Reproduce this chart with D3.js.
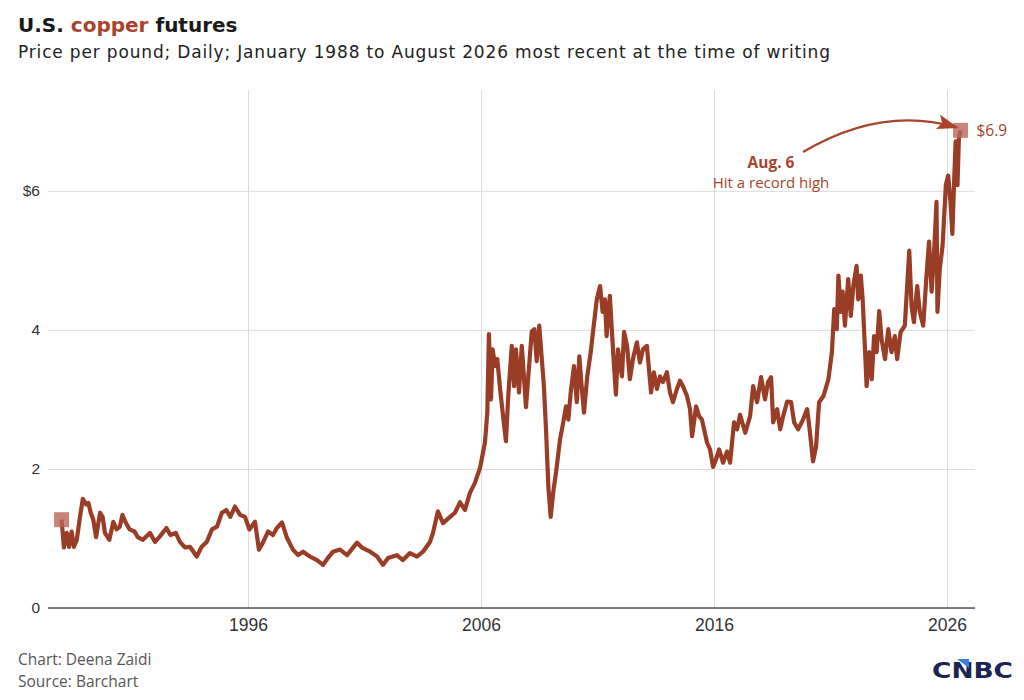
<!DOCTYPE html>
<html>
<head>
<meta charset="utf-8">
<script src="https://cdn.jsdelivr.net/npm/d3@7"></script>
<style>
  body { margin: 0; background: #fff; }
  svg { display: block; font-family: "Open Sans", sans-serif; }
  .tick line { stroke: #dcdcdc; }
  .domain { display: none; }
</style>
</head>
<body>
<svg id="chart" width="1024" height="700"></svg>
<script>
// decimal year / price per pound
var years = [
  1988.00, 1988.10, 1988.22, 1988.32, 1988.43, 1988.53, 1988.65, 1988.79, 1988.91, 1989.05,
  1989.15, 1989.25, 1989.36, 1989.48, 1989.65, 1989.76, 1989.86, 1990.05, 1990.22, 1990.36,
  1990.50, 1990.61, 1990.75, 1990.92, 1991.13, 1991.27, 1991.49, 1991.79, 1992.01, 1992.22,
  1992.50, 1992.67, 1992.90, 1993.08, 1993.30, 1993.51, 1993.80, 1994.01, 1994.23, 1994.45,
  1994.67, 1994.88, 1995.07, 1995.24, 1995.44, 1995.66, 1995.87, 1996.06, 1996.30, 1996.47,
  1996.64, 1996.86, 1997.07, 1997.24, 1997.46, 1997.67, 1997.93, 1998.15, 1998.36, 1998.66,
  1998.96, 1999.22, 1999.43, 1999.65, 1999.95, 2000.25, 2000.68, 2000.89, 2001.24, 2001.54,
  2001.79, 2002.01, 2002.39, 2002.65, 2002.95, 2003.25, 2003.51, 2003.81, 2003.94, 2004.15,
  2004.37, 2004.67, 2004.88, 2005.10, 2005.31, 2005.53, 2005.74, 2005.96, 2006.17, 2006.27,
  2006.34, 2006.43, 2006.50, 2006.60, 2006.70, 2006.82, 2006.93, 2007.07, 2007.17, 2007.32,
  2007.42, 2007.50, 2007.63, 2007.75, 2007.85, 2007.93, 2008.03, 2008.18, 2008.29, 2008.39,
  2008.50, 2008.61, 2008.70, 2008.79, 2008.89, 2008.99, 2009.10, 2009.25, 2009.39, 2009.53,
  2009.65, 2009.75, 2009.85, 2009.99, 2010.11, 2010.22, 2010.32, 2010.42, 2010.56, 2010.71,
  2010.82, 2010.97, 2011.11, 2011.22, 2011.32, 2011.39, 2011.53, 2011.62, 2011.71, 2011.79,
  2011.88, 2012.05, 2012.14, 2012.27, 2012.39, 2012.52, 2012.69, 2012.82, 2012.95, 2013.12,
  2013.30, 2013.42, 2013.55, 2013.68, 2013.81, 2013.98, 2014.11, 2014.24, 2014.41, 2014.54,
  2014.67, 2014.84, 2014.97, 2015.06, 2015.23, 2015.36, 2015.48, 2015.70, 2015.83, 2015.96,
  2016.09, 2016.22, 2016.39, 2016.56, 2016.69, 2016.86, 2016.99, 2017.12, 2017.34, 2017.55,
  2017.68, 2017.85, 2018.02, 2018.19, 2018.32, 2018.45, 2018.54, 2018.71, 2018.84, 2018.97,
  2019.14, 2019.31, 2019.44, 2019.61, 2019.82, 2020.00, 2020.12, 2020.25, 2020.38, 2020.51,
  2020.70, 2020.91, 2021.06, 2021.16, 2021.27, 2021.34, 2021.44, 2021.52, 2021.62, 2021.76,
  2021.87, 2021.98, 2022.12, 2022.19, 2022.30, 2022.38, 2022.48, 2022.55, 2022.66, 2022.77,
  2022.87, 2022.98, 2023.09, 2023.19, 2023.34, 2023.48, 2023.62, 2023.76, 2023.86, 2024.01,
  2024.19, 2024.29, 2024.38, 2024.48, 2024.58, 2024.72, 2024.83, 2024.98, 2025.12, 2025.23,
  2025.34, 2025.43, 2025.55, 2025.59, 2025.69, 2025.81, 2025.95, 2026.05, 2026.15, 2026.23,
  2026.30, 2026.37, 2026.45, 2026.51, 2026.58
];
var prices = [
  1.27, 0.87, 1.08, 0.88, 1.10, 0.88, 0.98, 1.31, 1.57, 1.49,
  1.51, 1.37, 1.27, 1.02, 1.37, 1.31, 1.08, 0.98, 1.24, 1.13,
  1.17, 1.34, 1.23, 1.13, 1.10, 1.02, 0.98, 1.08, 0.95, 1.03,
  1.15, 1.05, 1.08, 0.95, 0.87, 0.88, 0.74, 0.88, 0.95, 1.13,
  1.17, 1.37, 1.41, 1.31, 1.46, 1.34, 1.31, 1.13, 1.24, 0.84,
  0.94, 1.10, 1.05, 1.15, 1.23, 1.01, 0.84, 0.76, 0.81, 0.74,
  0.69, 0.62, 0.72, 0.81, 0.84, 0.76, 0.94, 0.87, 0.81, 0.74,
  0.62, 0.72, 0.76, 0.69, 0.79, 0.74, 0.81, 0.95, 1.08, 1.39,
  1.22, 1.31, 1.37, 1.52, 1.41, 1.66, 1.80, 2.02, 2.38, 2.81,
  3.94, 3.00, 3.72, 3.48, 3.58, 3.15, 2.81, 2.40, 3.05, 3.77,
  3.19, 3.72, 3.10, 3.77, 3.29, 2.89, 3.33, 3.98, 4.01, 3.55,
  4.06, 3.58, 3.19, 2.57, 1.75, 1.31, 1.66, 2.03, 2.42, 2.67,
  2.90, 2.71, 3.10, 3.48, 2.96, 3.62, 3.19, 2.81, 3.33, 3.68,
  4.01, 4.44, 4.63, 4.26, 4.44, 3.91, 4.49, 3.97, 3.48, 3.07,
  3.72, 3.33, 3.97, 3.77, 3.29, 3.58, 3.82, 3.53, 3.72, 3.77,
  3.10, 3.39, 3.15, 3.33, 3.25, 3.39, 3.10, 2.96, 3.15, 3.27,
  3.19, 3.05, 2.86, 2.47, 2.90, 2.76, 2.71, 2.38, 2.28, 2.03,
  2.14, 2.28, 2.09, 2.25, 2.09, 2.67, 2.57, 2.78, 2.52, 2.76,
  3.19, 2.96, 3.32, 3.00, 3.25, 3.32, 2.67, 2.86, 2.57, 2.76,
  2.97, 2.96, 2.67, 2.57, 2.71, 2.86, 2.52, 2.11, 2.32, 2.96,
  3.05, 3.29, 3.68, 4.30, 4.01, 4.78, 4.26, 4.55, 4.06, 4.73,
  4.20, 4.63, 4.92, 4.44, 4.78, 4.44, 3.72, 3.19, 3.68, 3.29,
  3.91, 3.68, 4.27, 3.87, 3.58, 4.01, 3.68, 3.91, 3.58, 3.97,
  4.06, 4.63, 5.14, 4.34, 4.11, 4.63, 4.26, 4.06, 4.78, 5.27,
  4.55, 5.02, 5.84, 4.26, 4.88, 5.21, 6.08, 6.22, 5.84, 5.38,
  6.08, 6.71, 6.08, 6.75, 6.87
];
var xTicks = [1996, 2006, 2016, 2026];
var yTicks = [0, 2, 4, 6];
var recordLabel = ["Aug. 6", "Hit a record high"];

var lineColor = "#9a3d26";
var accent = "#a8442c";

var svg = d3.select("#chart");
var data = years.map((v, i) => ({ year: v, price: prices[i] }));

// plot box (named to avoid window.top)
var plotL = 48, plotR = 975, plotT = 90, plotB = 608;

var x = d3.scaleLinear().domain([1988, 2026]).range([61.6, 947]);
var y = d3.scaleLinear().domain([0, 7.45]).range([plotB, plotT]);

// title
var title = svg.append("text").attr("x", 18).attr("y", 32)
  .attr("font-size", 20).attr("font-weight", 700).attr("fill", "#1a1a1a")
  .attr("font-family", "'DejaVu Sans', sans-serif");
title.append("tspan").text("U.S. ");
title.append("tspan").attr("fill", accent).text("copper");
title.append("tspan").text(" futures");

svg.append("text").attr("x", 18).attr("y", 58)
  .attr("font-size", 17).attr("fill", "#222")
  .attr("font-family", "'DejaVu Sans', sans-serif")
  .attr("textLength", 812).attr("lengthAdjust", "spacing")
  .text("Price per pound; Daily; January 1988 to August 2026 most recent at the time of writing");

// y grid + labels
var yAxis = svg.append("g").attr("transform", "translate(" + plotL + ",0)")
  .call(d3.axisLeft(y).tickValues(yTicks).tickSize(-(plotR - plotL)).tickPadding(8)
    .tickFormat(d => d === 6 ? "$6" : d));
yAxis.selectAll("text").attr("font-size", 15.5).attr("fill", "#333");

// x grid + labels
var xAxis = svg.append("g").attr("transform", "translate(0," + plotB + ")")
  .call(d3.axisBottom(x).tickValues(xTicks).tickSize(-(plotB - plotT)).tickPadding(11)
    .tickFormat(d3.format("d")));
xAxis.selectAll("text").attr("font-size", 17.5).attr("fill", "#333");

// baseline
svg.append("line").attr("x1", plotL).attr("x2", plotR)
  .attr("y1", y(0)).attr("y2", y(0))
  .attr("stroke", "#555").attr("stroke-width", 1.5);

// price line
var line = d3.line().x(d => x(d.year)).y(d => y(d.price));
svg.append("path").datum(data)
  .attr("d", line)
  .attr("fill", "none")
  .attr("stroke", lineColor)
  .attr("stroke-width", 4.2)
  .attr("stroke-linejoin", "round");

// start / end markers
var first = data[0], last = data[data.length - 1];
svg.selectAll(".marker").data([first, last]).enter().append("rect")
  .attr("class", "marker")
  .attr("x", d => x(d.year) - 7.5).attr("y", d => y(d.price) - 7.5)
  .attr("width", 15).attr("height", 15)
  .attr("fill", "#b8665a").attr("opacity", 0.8);

svg.append("text").attr("x", x(last.year) + 16).attr("y", y(last.price) + 5.5)
  .attr("font-size", 15.5).attr("fill", accent)
  .text("$" + d3.format(".1f")(last.price));

// annotation arrow
svg.append("defs").append("marker")
  .attr("id", "arrow").attr("viewBox", "0 0 20 14")
  .attr("refX", 18).attr("refY", 7)
  .attr("markerUnits", "userSpaceOnUse")
  .attr("markerWidth", 22).attr("markerHeight", 15)
  .attr("orient", "auto")
  .append("path").attr("d", "M0,0 L20,7 L0,14 L4,7 z").attr("fill", accent);

var ax = x(last.year) - 4, ay = y(last.price) - 3;
svg.append("path")
  .attr("d", "M803,152 Q" + (ax - 75) + "," + (ay - 22) + " " + ax + "," + ay)
  .attr("fill", "none").attr("stroke", accent).attr("stroke-width", 2.2)
  .attr("marker-end", "url(#arrow)");

svg.append("text").attr("x", 771).attr("y", 168)
  .attr("text-anchor", "middle").attr("font-size", 15.5).attr("font-weight", 700)
  .attr("fill", accent)
  .text(recordLabel[0]);
svg.append("text").attr("x", 771).attr("y", 188)
  .attr("text-anchor", "middle").attr("font-size", 15)
  .attr("fill", accent)
  .text(recordLabel[1]);

// footer
var foot = svg.append("g").attr("font-size", 15.5).attr("fill", "#555");
foot.append("text").attr("x", 18).attr("y", 665).text("Chart: Deena Zaidi");
foot.append("text").attr("x", 18).attr("y", 687).text("Source: Barchart");

// logo
svg.append("text").attr("x", 932).attr("y", 678)
  .attr("font-size", 22).attr("font-weight", 700).attr("fill", "#1b2452")
  .attr("font-family", "'DejaVu Sans', sans-serif")
  .attr("textLength", 81).attr("lengthAdjust", "spacingAndGlyphs")
  .text("CNBC");
svg.append("path").attr("d", "M957,659 L969,659 L969,668 z").attr("fill", "#3d7fe0");
</script>
</body>
</html>
